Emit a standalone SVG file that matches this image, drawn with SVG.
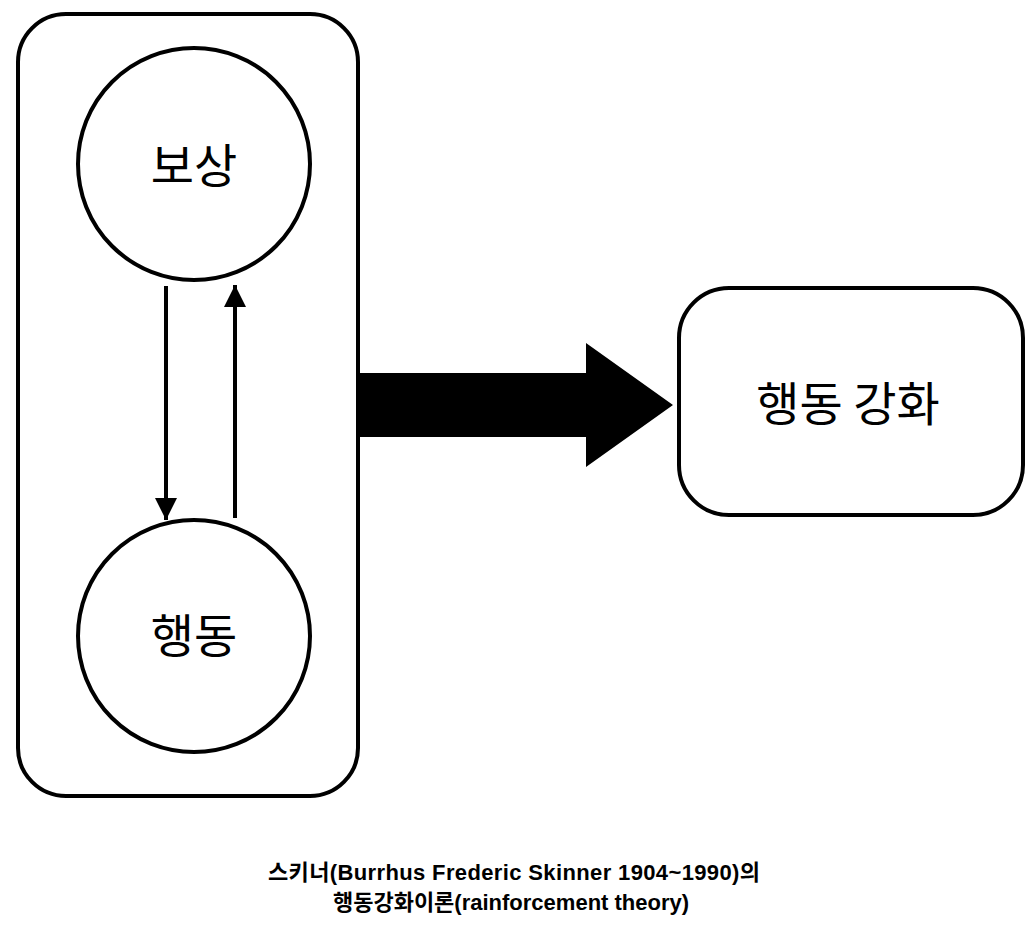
<svg xmlns="http://www.w3.org/2000/svg" width="1034" height="938" viewBox="0 0 1034 938">
<style>
.shape{fill:#fff;stroke:#000;stroke-width:4}
.lbl{font-family:"Noto Sans CJK KR","Noto Sans",sans-serif;font-size:47px;text-anchor:middle;dominant-baseline:central;fill:#000}
.cap{font-family:"Liberation Sans","Noto Sans CJK KR",sans-serif;font-size:22px;font-weight:bold;text-anchor:middle;fill:#000}
.conn{stroke:#000;stroke-width:4;fill:none}
</style>
<defs>
<marker id="ah" markerUnits="userSpaceOnUse" markerWidth="24" markerHeight="22" viewBox="0 0 24 22" refX="22" refY="11" orient="auto">
<path d="M0,0 L22,11 L0,22 Z" fill="#000"/>
</marker>
</defs>
<rect width="1034" height="938" fill="#fff"/>
<g id="container"><rect class="shape" x="18" y="14" width="340" height="782" rx="48" ry="48"/></g>
<g id="reward"><circle class="shape" cx="194" cy="164" r="116"/><text class="lbl" x="194" y="162">보상</text></g>
<g id="behavior"><circle class="shape" cx="194" cy="636" r="116"/><text class="lbl" x="194" y="632">행동</text></g>
<g id="reinforce"><rect class="shape" x="679" y="288" width="344" height="227" rx="50" ry="50"/><text class="lbl" x="848" y="400">행동 강화</text></g>
<g id="connectors">
<line class="conn" x1="166" y1="286" x2="166" y2="520" marker-end="url(#ah)"/>
<line class="conn" x1="235" y1="518" x2="235" y2="285" marker-end="url(#ah)"/>
<path d="M359,373 L586,373 L586,343 L673,405 L586,467 L586,437 L359,437 Z" fill="#000"/>
</g>
<g id="caption">
<text class="cap" x="514" y="880" textLength="492" lengthAdjust="spacing">스키너(Burrhus Frederic Skinner 1904~1990)의</text>
<text class="cap" x="511" y="910">행동강화이론(rainforcement theory)</text>
</g>
</svg>
